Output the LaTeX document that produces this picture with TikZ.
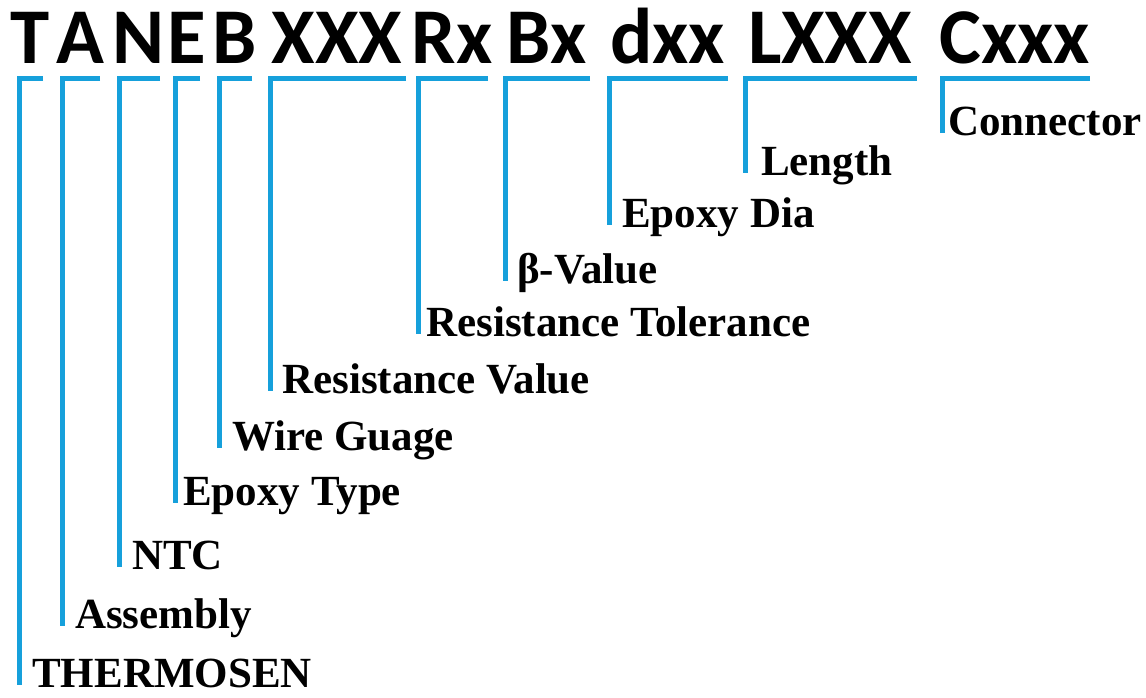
\documentclass[tikz,border=0pt]{standalone}
\usepackage{fontspec}
\setmainfont{Liberation Serif}
\newfontfamily\codefont{Carlito}
\definecolor{barblue}{RGB}{22,160,219}

\begin{document}
\begin{tikzpicture}[
    x=1pt, y=-1pt,
    code/.style={anchor=base, inner sep=0pt, font=\codefont\bfseries\fontsize{79}{79}\selectfont},
    lbl/.style={anchor=base west, inner sep=0pt, font=\bfseries\fontsize{43}{43}\selectfont},
    bar/.style={line width=5pt, barblue, line join=miter}
]
    \useasboundingbox (0,0) rectangle (1146,697);

    % part number
    \node[code] (cT) at (29.75,63) {T};
    \node[code] (cA) at (80,63) {A};
    \node[code] (cN) at (138.5,63) {N};
    \node[code] (cE) at (186.5,63) {E};
    \node[code] (cB) at (234.5,63) {B};
    \node[code] (cR) at (337,63) {XXX};
    \node[code] (cTol) at (452,63) {Rx};
    \node[code] (cBeta) at (546.5,63) {Bx};
    \node[code] (cDia) at (667.5,63) {dxx};
    \node[code] (cL) at (830,63) {LXXX};
    \node[code] (cC) at (1015,63) {Cxxx};

    % bar corners and ends
    \coordinate (bT) at (19,78.5);      \coordinate (eT) at (43,78.5);
    \coordinate (bA) at (62.5,78.5);    \coordinate (eA) at (100,78.5);
    \coordinate (bN) at (119.5,78.5);   \coordinate (eN) at (160,78.5);
    \coordinate (bE) at (175.5,78.5);   \coordinate (eE) at (200,78.5);
    \coordinate (bB) at (219.5,78.5);   \coordinate (eB) at (252,78.5);
    \coordinate (bR) at (270.5,78.5);   \coordinate (eR) at (406,78.5);
    \coordinate (bTol) at (418.5,78.5); \coordinate (eTol) at (488,78.5);
    \coordinate (bBeta) at (505.5,78.5);\coordinate (eBeta) at (590,78.5);
    \coordinate (bDia) at (609.5,78.5); \coordinate (eDia) at (728,78.5);
    \coordinate (bL) at (745.5,78.5);   \coordinate (eL) at (917,78.5);
    \coordinate (bC) at (942.5,78.5);   \coordinate (eC) at (1090,78.5);

    % meanings
    \node[lbl] (lT) at (32,687) {THERMOSEN};
    \node[lbl] (lA) at (75,628) {Assembly};
    \node[lbl] (lN) at (132,569) {NTC};
    \node[lbl] (lE) at (183,505) {Epoxy Type};
    \node[lbl] (lB) at (232,450) {Wire Guage};
    \node[lbl] (lR) at (282,393) {Resistance Value};
    \node[lbl] (lTol) at (426,336) {Resistance Tolerance};
    \node[lbl] (lBeta) at (517,283) {β-Value};
    \node[lbl] (lDia) at (622,227) {Epoxy Dia};
    \node[lbl] (lL) at (761,175) {Length};
    \node[lbl] (lC) at (948,135) {Connector};

    \draw[bar] (eT) -- (bT) -- (bT |- lT.mid);
    \draw[bar] (eA) -- (bA) -- (bA |- lA.mid);
    \draw[bar] (eN) -- (bN) -- (bN |- lN.mid);
    \draw[bar] (eE) -- (bE) -- (bE |- lE.mid);
    \draw[bar] (eB) -- (bB) -- (bB |- lB.mid);
    \draw[bar] (eR) -- (bR) -- (bR |- lR.mid);
    \draw[bar] (eTol) -- (bTol) -- (bTol |- lTol.mid);
    \draw[bar] (eBeta) -- (bBeta) -- (bBeta |- lBeta.mid);
    \draw[bar] (eDia) -- (bDia) -- (bDia |- lDia.mid);
    \draw[bar] (eL) -- (bL) -- (bL |- lL.mid);
    \draw[bar] (eC) -- (bC) -- (bC |- lC.mid);
\end{tikzpicture}
\end{document}
